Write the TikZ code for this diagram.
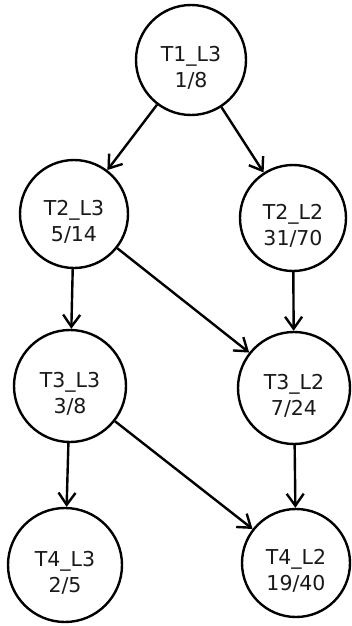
\documentclass[tikz,border=0pt]{standalone}
\usepackage{fontspec}
\setmainfont{DejaVu Sans}
\usetikzlibrary{arrows.meta}
% invisible strut that lowers the two-line labels inside the circles
\newcommand{\nodelift}{\rule{0pt}{31pt}}
\begin{document}
\begin{tikzpicture}[x=1pt,y=-1pt,
  state/.style={circle,draw=black,line width=2.4pt,inner sep=0pt,
    align=center,font=\fontsize{20.5}{26}\selectfont,text=black!90},
  edge/.style={line width=2.4pt,-{Straight Barb[length=12pt,width=17pt,line width=2.4pt]}}]
  \useasboundingbox (0,0) rectangle (351,626);
  \node[state,minimum size=110] (t1l3) at (191,60) {\nodelift T1\_L3\\1/8};
  \node[state,minimum size=108] (t2l3) at (74,214) {\nodelift T2\_L3\\5/14};
  \node[state,minimum size=106] (t2l2) at (293,218) {\nodelift T2\_L2\\31/70};
  \node[state,minimum size=112] (t3l3) at (70,386) {\nodelift T3\_L3\\3/8};
  \node[state,minimum size=112] (t3l2) at (294,388) {\nodelift T3\_L2\\7/24};
  \node[state,minimum size=114] (t4l3) at (65,565) {\nodelift T4\_L3\\2/5};
  \node[state,minimum size=108] (t4l2) at (296,563) {\nodelift T4\_L2\\19/40};
  \draw[edge] (t1l3) -- (t2l3);
  \draw[edge] (t1l3) -- (t2l2);
  \draw[edge] (t2l3) -- (t3l3);
  \draw[edge] (t2l3) -- (t3l2);
  \draw[edge] (t2l2) -- (t3l2);
  \draw[edge] (t3l3) -- (t4l3);
  \draw[edge] (t3l3) -- (t4l2);
  \draw[edge] (t3l2) -- (t4l2);
\end{tikzpicture}
\end{document}
